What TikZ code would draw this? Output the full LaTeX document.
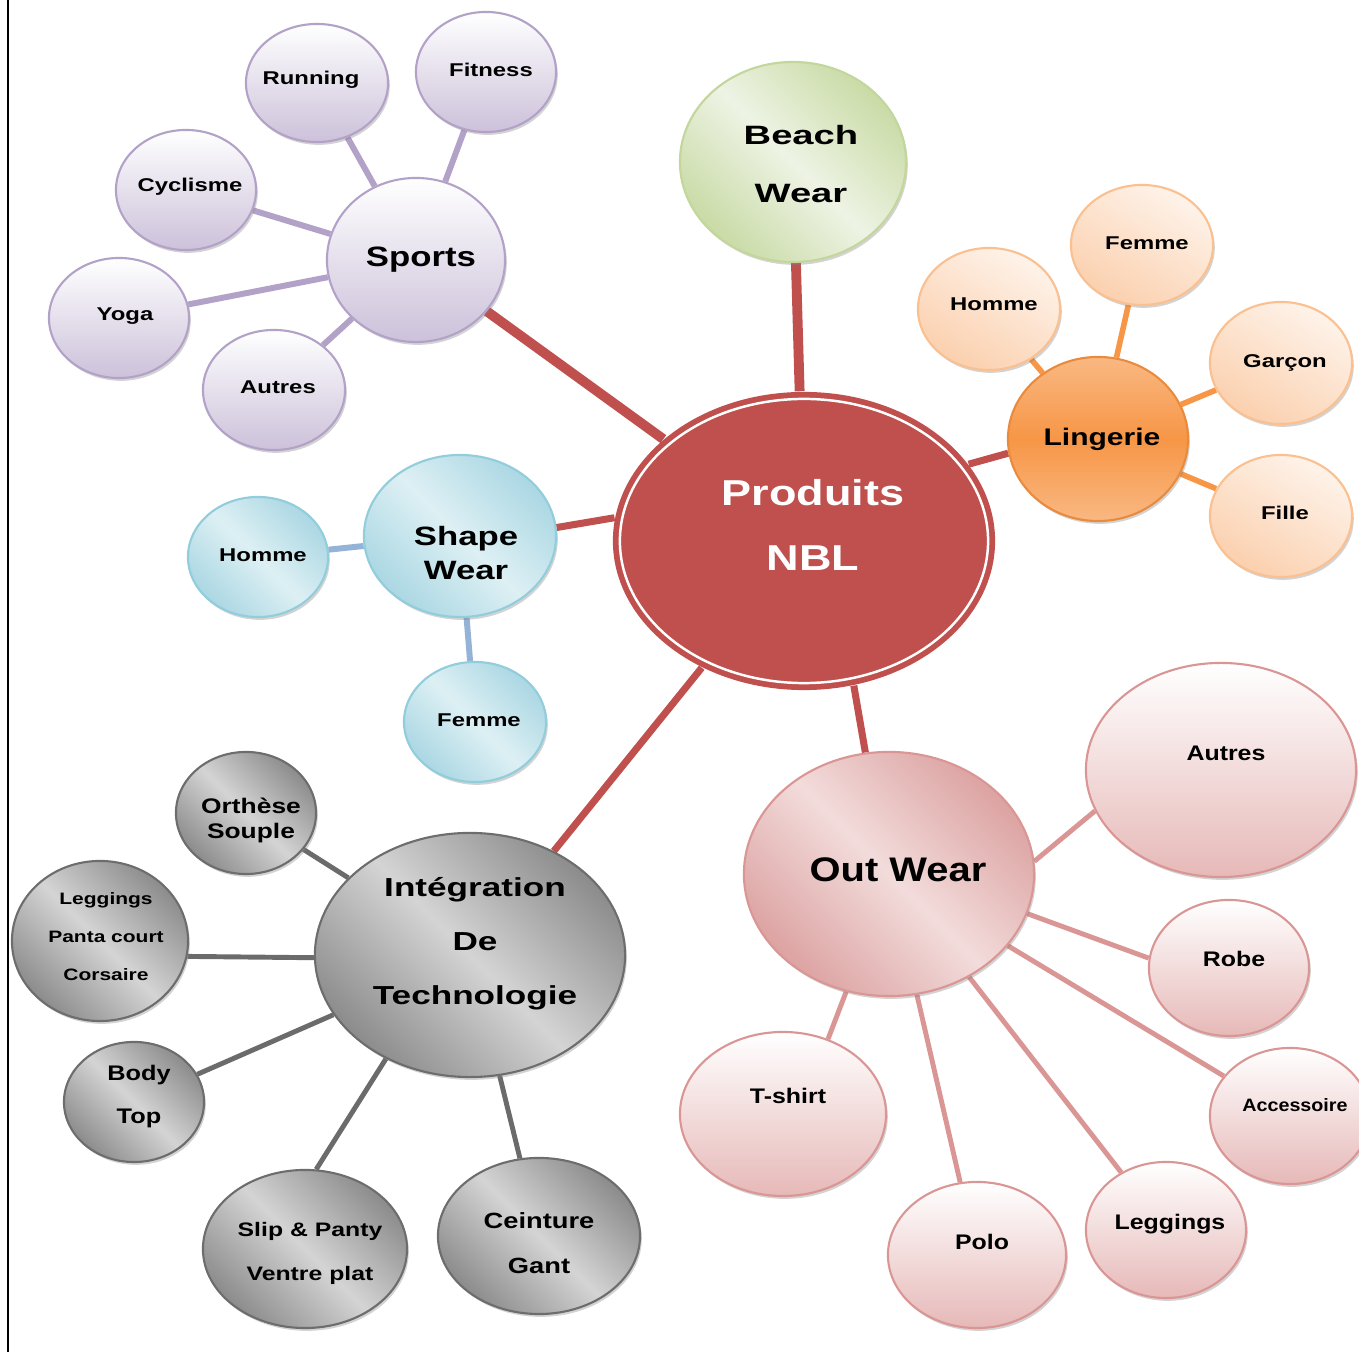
\documentclass[tikz,border=0pt]{standalone}
\usepackage{fontspec}
\setmainfont{Liberation Sans}
\usetikzlibrary{shapes.geometric, shadows, backgrounds}

\definecolor{nblred}{HTML}{C0504D}
\definecolor{lavline}{HTML}{B3A2C7}
\definecolor{lavfill}{HTML}{CCC1DA}
\definecolor{beachline}{HTML}{C3D69B}
\definecolor{beachdark}{HTML}{C9DBA6}
\definecolor{beachlight}{HTML}{EEF3E4}
\definecolor{shapeline}{HTML}{92CDDC}
\definecolor{shapedark}{HTML}{ABD7E3}
\definecolor{shapelight}{HTML}{DDF0F4}
\definecolor{shapelink}{HTML}{95B3D7}
\definecolor{orline}{HTML}{FAC090}
\definecolor{orlight}{HTML}{FEF3EA}
\definecolor{orfill}{HTML}{FBD0AE}
\definecolor{lingmid}{HTML}{F79646}
\definecolor{lingedge}{HTML}{F9B882}
\definecolor{lingline}{HTML}{E98A3C}
\definecolor{pinkline}{HTML}{D99694}
\definecolor{pinkfill}{HTML}{E6B9B8}
\definecolor{pinkdark}{HTML}{DCA3A2}
\definecolor{pinklight}{HTML}{F2DCDB}
\definecolor{greyline}{HTML}{6D6D6D}
\definecolor{greydark}{HTML}{8C8C8C}
\definecolor{greylight}{HTML}{D4D4D4}
\definecolor{greylink}{HTML}{6B6B6B}

% size in pt, skip in pt, stretch
\newcommand{\mapfont}[3]{\fontspec{Liberation Sans}[FakeStretch=#3]\bfseries\fontsize{#1pt}{#2pt}\selectfont}

\tikzset{
bubble/.style = {ellipse, inner sep = 0pt, line width = 0.6pt, drop shadow = {opacity = 0.35, shadow xshift = 0.5pt, shadow yshift = -0.8pt}},
sz/.style 2 args = {minimum width = #1cm, minimum height = #2cm},
sportbub/.style = {bubble, draw = lavline, top color = white, bottom color = lavfill},
beachbub/.style = {bubble, draw = beachline, top color = beachdark, bottom color = beachdark, middle color = beachlight, shading angle = -45},
shapebub/.style = {bubble, draw = shapeline, top color = shapedark, bottom color = shapedark, middle color = shapelight, shading angle = -45},
lingbub/.style = {bubble, draw = orline, top color = orlight, bottom color = orfill, shading angle = -30},
lingmain/.style = {bubble, draw = lingline, top color = lingedge, bottom color = lingedge, middle color = lingmid},
outbub/.style = {bubble, draw = pinkline, top color = white, bottom color = pinkfill},
outmain/.style = {bubble, draw = pinkline, top color = pinkdark, bottom color = pinkdark, middle color = pinklight, shading angle = -45},
greybub/.style = {bubble, draw = greyline, top color = greydark, bottom color = greydark, middle color = greylight, shading angle = -45},
lbl/.style = {align = center, inner sep = 0pt},
small/.style = {lbl, font = \mapfont{5.26}{7}{1.29}},
pinksmall/.style = {lbl, font = \mapfont{6.0}{8}{1.18}},
}

\begin{document}
\begin{tikzpicture}[x = 0.01cm, y = -0.01cm]
    \useasboundingbox (0, 0) rectangle (1359, 1352);
    \draw[line width = 0.6pt] (8, 0) -- (8, 1352);

    % centre
    \node[ellipse, fill = nblred, sz = {3.82}{2.98}] (nbl) at (804, 541) {};
    \draw[white, line width = 0.7pt] (nbl.center) ellipse [x radius = 1.84cm, y radius = 1.42cm];
    \node[lbl, white, font = \mapfont{10.24}{18.5}{1.25}] (nbl-t) at (813, 525) {Produits\\NBL};

    % beach wear
    \node[beachbub, sz = {2.26}{2.00}] (beach) at (793, 162) {};
    \node[lbl, font = \mapfont{7.54}{16.5}{1.44}] (beach-t) at (801, 164) {Beach\\Wear};

    % sports
    \node[sportbub, sz = {1.78}{1.64}] (sports) at (416, 260) {};
    \node[lbl, font = \mapfont{7.97}{10}{1.24}] (sports-t) at (421, 260) {Sports};
    \node[sportbub, sz = {1.42}{1.18}] (running) at (317, 83) {};
    \node[small] (running-t) at (311, 80) {Running};
    \node[sportbub, sz = {1.40}{1.20}] (fitness) at (486, 72) {};
    \node[small] (fitness-t) at (491, 70) {Fitness};
    \node[sportbub, sz = {1.40}{1.20}] (cyclisme) at (186, 190) {};
    \node[small] (cyclisme-t) at (190, 187) {Cyclisme};
    \node[sportbub, sz = {1.40}{1.20}] (yoga) at (119, 318) {};
    \node[small] (yoga-t) at (125, 316) {Yoga};
    \node[sportbub, sz = {1.42}{1.20}] (sautres) at (274, 390) {};
    \node[small] (sautres-t) at (278, 387) {Autres};

    % shape wear
    \node[shapebub, sz = {1.92}{1.62}] (shape) at (460, 536) {};
    \node[lbl, font = \mapfont{7.54}{9.7}{1.31}] (shape-t) at (466, 553) {Shape\\Wear};
    \node[shapebub, sz = {1.40}{1.20}] (shomme) at (258, 557) {};
    \node[small] (shomme-t) at (263, 555) {Homme};
    \node[shapebub, sz = {1.42}{1.20}] (sfemme) at (475, 722) {};
    \node[small] (sfemme-t) at (479, 720) {Femme};

    % lingerie
    \node[lingmain, sz = {1.80}{1.64}] (lingerie) at (1098, 439) {};
    \node[lbl, font = \mapfont{6.83}{9}{1.25}] (lingerie-t) at (1102, 439) {Lingerie};
    \node[lingbub, sz = {1.42}{1.22}] (lhomme) at (989, 309) {};
    \node[small] (lhomme-t) at (994, 304) {Homme};
    \node[lingbub, sz = {1.42}{1.20}] (lfemme) at (1142, 245) {};
    \node[small] (lfemme-t) at (1147, 243) {Femme};
    \node[lingbub, sz = {1.42}{1.22}] (garcon) at (1281, 363) {};
    \node[small] (garcon-t) at (1285, 363) {Garçon};
    \node[lingbub, sz = {1.42}{1.22}] (fille) at (1281, 516) {};
    \node[small] (fille-t) at (1285, 513) {Fille};

    % out wear
    \node[outmain, sz = {2.90}{2.44}] (outwear) at (889, 874) {};
    \node[lbl, font = \mapfont{9.7}{12}{1.17}] (outwear-t) at (898, 870) {Out Wear};
    \node[outbub, sz = {2.70}{2.14}] (oautres) at (1221, 770) {};
    \node[pinksmall] (oautres-t) at (1226, 753) {Autres};
    \node[outbub, sz = {1.60}{1.36}] (robe) at (1229, 968) {};
    \node[pinksmall] (robe-t) at (1234, 959) {Robe};
    \node[outbub, sz = {1.60}{1.36}] (accessoire) at (1290, 1116) {};
    \node[lbl, font = \mapfont{5.1}{7}{1.1}] (accessoire-t) at (1295, 1105) {Accessoire};
    \node[outbub, sz = {1.60}{1.36}] (oleggings) at (1166, 1230) {};
    \node[pinksmall] (oleggings-t) at (1170, 1224) {Leggings};
    \node[outbub, sz = {1.78}{1.46}] (polo) at (977, 1255) {};
    \node[pinksmall] (polo-t) at (982, 1242) {Polo};
    \node[outbub, sz = {2.06}{1.64}] (tshirt) at (783, 1114) {};
    \node[pinksmall] (tshirt-t) at (788, 1096) {T-shirt};

    % integration de technologie
    \node[greybub, sz = {3.10}{2.44}] (integ) at (470, 955) {};
    \node[lbl, font = \mapfont{7.4}{15.4}{1.35}] (integ-t) at (475, 944) {Intégration\\De\\Technologie};
    \node[greybub, sz = {1.40}{1.22}] (orthese) at (246, 813) {};
    \node[lbl, font = \mapfont{6.0}{7.1}{1.25}] (orthese-t) at (251, 820) {Orthèse\\Souple};
    \node[greybub, sz = {1.76}{1.60}] (ileggings) at (100, 941) {};
    \node[lbl, font = \mapfont{4.7}{10.8}{1.27}] (ileggings-t) at (106, 937) {Leggings\\Panta court\\Corsaire};
    \node[greybub, sz = {1.40}{1.20}] (body) at (134, 1102) {};
    \node[lbl, font = \mapfont{6.0}{12.2}{1.2}] (body-t) at (139, 1097) {Body\\Top};
    \node[greybub, sz = {2.04}{1.58}] (slip) at (305, 1249) {};
    \node[lbl, font = \mapfont{5.55}{12.5}{1.27}] (slip-t) at (310, 1253) {Slip \& Panty\\Ventre plat};
    \node[greybub, sz = {2.02}{1.56}] (ceinture) at (539, 1236) {};
    \node[lbl, font = \mapfont{6.26}{12.8}{1.24}] (ceinture-t) at (539, 1243) {Ceinture\\Gant};

    \begin{scope}[on background layer]
    % branches from the centre
    \draw[nblred, line width = 2.8pt] (nbl) -- (beach);
    \draw[nblred, line width = 2.8pt] (nbl) -- (sports);
    \draw[nblred, line width = 2pt] (nbl.173) -- (shape.5);
    \draw[nblred, line width = 2pt] (nbl.25) -- (lingerie.189);
    \draw[nblred, line width = 2pt] (nbl.289) -- (outwear.101);
    \draw[nblred, line width = 2pt] (nbl) -- (integ);
    % sub branches
    \foreach \leaf in {running, fitness, cyclisme, yoga, sautres}
        \draw[lavline, line width = 1.7pt] (sports) -- (\leaf);
    \foreach \leaf in {shomme, sfemme}
        \draw[shapelink, line width = 1.7pt] (shape) -- (\leaf);
    \foreach \leaf in {lhomme, lfemme, garcon, fille}
        \draw[lingmid, line width = 1.6pt] (lingerie) -- (\leaf);
    \draw[pinkline, line width = 1.4pt] (outwear.5) -- (oautres.198);
    \draw[pinkline, line width = 1.4pt] (outwear.344) -- (robe.173);
    \draw[pinkline, line width = 1.4pt] (outwear.250) -- (tshirt.59);
    \foreach \leaf in {accessoire, oleggings, polo}
        \draw[pinkline, line width = 1.4pt] (outwear) -- (\leaf);
    \draw[greylink, line width = 1.4pt] (ileggings.-10) -- (integ.181);
    \draw[greylink, line width = 1.4pt] (slip.82) -- (integ.231);
    \foreach \leaf in {orthese, body, ceinture}
        \draw[greylink, line width = 1.4pt] (integ) -- (\leaf);
    \end{scope}
\end{tikzpicture}
\end{document}
